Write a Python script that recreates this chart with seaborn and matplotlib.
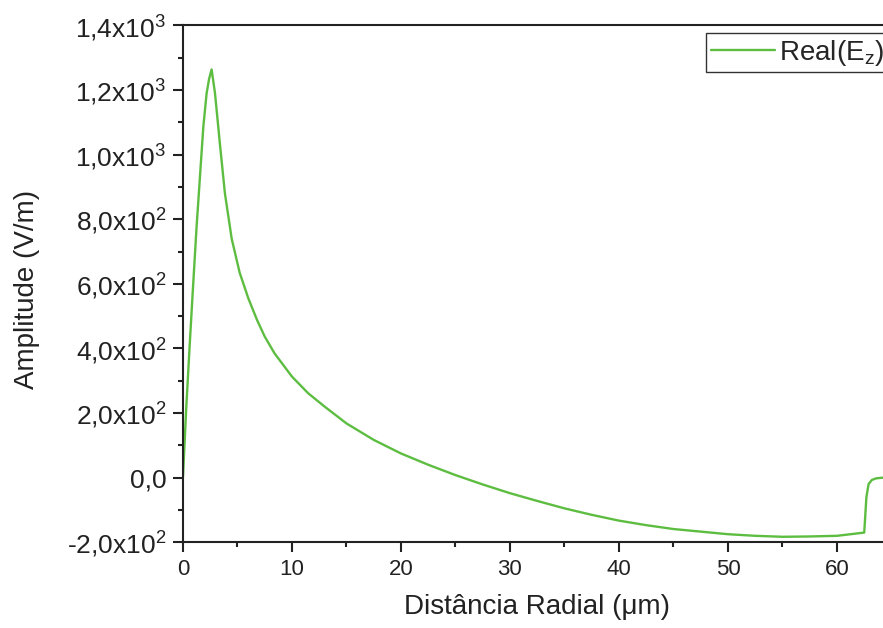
import numpy as np
import pandas as pd
import matplotlib
matplotlib.use("Agg")
import matplotlib.pyplot as plt
from matplotlib.ticker import MultipleLocator, FuncFormatter
import seaborn as sns

# Radial profile of Real(Ez)
radius_um = [0, 0.3, 0.6, 0.89, 1.25, 1.56, 1.87, 2.17, 2.4, 2.63, 2.94, 3.4,
             3.85, 4.47, 5.2, 6.0, 6.8, 7.5, 8.4, 10.0, 11.5, 13.0, 15.0,
             17.5, 20.0, 22.5, 25.0, 27.5, 30.0, 32.5, 35.0, 37.5, 40.0, 42.5,
             45.0, 47.5, 50.0, 52.5, 55.0, 57.5, 60.0, 62.5, 62.7, 62.9, 63.2,
             63.6, 64.2, 65.0]
real_ez = [0, 215, 400, 571, 777, 932, 1087, 1190, 1235, 1264, 1190, 1030,
           880, 740, 635, 555, 488, 437, 385, 313, 261, 220, 168,
           117, 75, 40, 8, -21, -48, -72, -95, -115, -133, -147,
           -159, -167, -175, -180, -183, -182, -180, -170, -60, -20, -7,
           -2, 0, 0]

df = pd.DataFrame({"r": radius_um, "ez": real_ez})

sns.set_style("ticks")
plt.rcParams["font.family"] = ["Liberation Sans", "DejaVu Sans"]
plt.rcParams["mathtext.fontset"] = "custom"
plt.rcParams["mathtext.rm"] = "Liberation Sans"
plt.rcParams["mathtext.it"] = "Liberation Sans:italic"

fig = plt.figure(figsize=(8.83, 6.28), dpi=100)
ax = fig.add_axes([0.2072, 0.1365, 0.8024, 0.8229])

sns.lineplot(data=df, x="r", y="ez", sort=False, color="#5dbd41",
             linewidth=1.7, label=r"Real(E$_\mathrm{z}$)", ax=ax)

ax.set_xlim(0, 65)
ax.set_ylim(-200, 1400)
ax.xaxis.set_major_locator(MultipleLocator(10))
ax.xaxis.set_minor_locator(MultipleLocator(5))
ax.yaxis.set_major_locator(MultipleLocator(200))
ax.yaxis.set_minor_locator(MultipleLocator(100))


def sci_fmt(v, pos):
    if abs(v) < 1e-9:
        return "0,0"
    e = int(np.floor(np.log10(abs(v))))
    m = v / 10 ** e
    return f"{m:.1f}".replace(".", ",") + "x10$^{%d}$" % e


ax.yaxis.set_major_formatter(FuncFormatter(sci_fmt))

for side in ["left", "bottom", "top"]:
    ax.spines[side].set_linewidth(1.5)
    ax.spines[side].set_color("#222222")
ax.spines["right"].set_visible(False)

ax.tick_params(axis="both", which="major", length=7, width=1.5,
               color="#222222", direction="out")
ax.tick_params(axis="both", which="minor", length=3.5, width=1.5,
               color="#222222", direction="out")
ax.tick_params(axis="x", labelsize=16, pad=5, labelcolor="#222222")
ax.tick_params(axis="y", labelsize=19, pad=5, labelcolor="#222222")
ax.tick_params(top=False, right=False)

ax.set_xlabel("Distância Radial (μm)", fontsize=20, color="#222222")
ax.set_ylabel("Amplitude (V/m)", fontsize=20, color="#222222")
ax.xaxis.set_label_coords(0.5, -0.10)
ax.yaxis.set_label_coords(-0.202, 0.49)

leg = ax.legend(loc="upper left", bbox_to_anchor=(0.7995, 0.9475),
                bbox_transform=fig.transFigure, fontsize=20, frameon=True,
                fancybox=False, shadow=False, borderaxespad=0,
                handlelength=2.3, handletextpad=0.15, borderpad=0.17)
leg.get_frame().set_edgecolor("#333333")
leg.get_frame().set_linewidth(1.0)
leg.get_frame().set_alpha(1)

fig.savefig("out.png", dpi=100)
